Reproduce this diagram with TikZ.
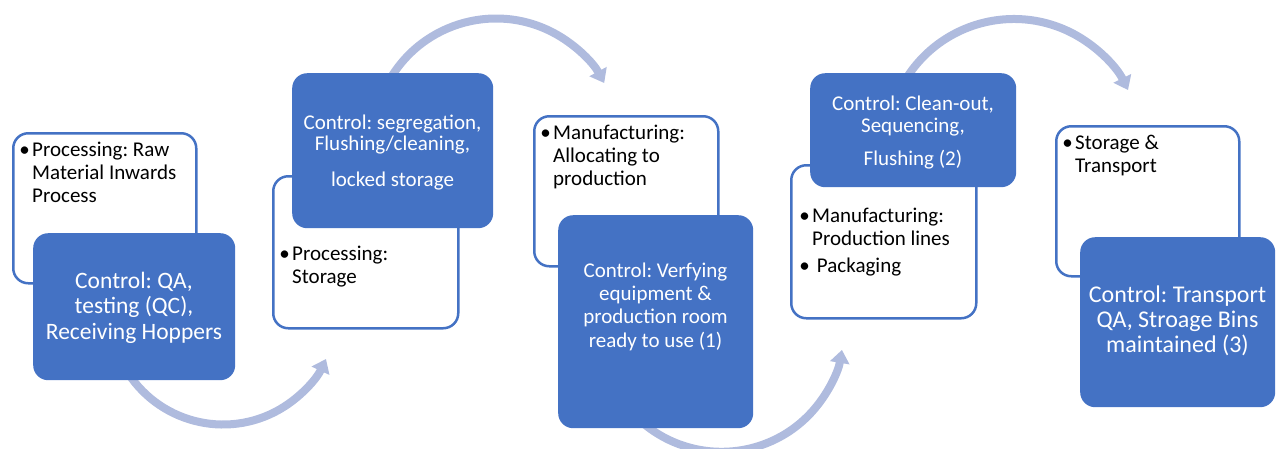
\documentclass[tikz,border=0pt]{standalone}
\usepackage{fontspec}
\setmainfont{Carlito}
\usetikzlibrary{arrows.meta,calc}

\definecolor{accent}{HTML}{4472C4}
\definecolor{flowarc}{RGB}{175,187,222}

% bullet and hanging indent for the stage lists
\newcommand\stagebul{\makebox[15pt][c]{•}}
\newcommand\stageind{\hspace*{15pt}}
\frenchspacing

\tikzset{
  ctrlbox/.style={rectangle, rounded corners=15pt, fill=accent, draw=none,
                  inner sep=0pt, anchor=north west},
  stagebox/.style={rectangle, rounded corners=15pt, fill=white, draw=accent,
                   line width=2.5pt, inner sep=0pt, anchor=north west},
  % text nodes are placed by the baseline of their last line
  stagetext/.style={anchor=base west, align=left, inner sep=0pt, text=black,
                    font=\fontsize{21}{23}\selectfont},
  ctrltext/.style={anchor=base, align=center, inner sep=0pt, text=white},
  flow/.style={draw=flowarc, line width=8pt, line cap=butt,
               -{Triangle[width=19pt,length=13pt]}}
}

\begin{document}
\begin{tikzpicture}[x=1pt,y=-1pt]
\useasboundingbox (0,0) rectangle (1280,448);

% ---- curved flow arrows (drawn first, the boxes cover their tails)
\coordinate (arcA) at (223.1,311.0);
\coordinate (arcB) at (496.0,141.5);
\coordinate (arcC) at (721.6,329.8);
\coordinate (arcD) at (1013.9,146.2);
\coordinate (fA) at ($(arcA)+(147:113.5)$);
\coordinate (fB) at ($(arcB)+(-150:123)$);
\coordinate (fC) at ($(arcC)+(130:122)$);
\coordinate (fD) at ($(arcD)+(-150:127.2)$);
\draw[flow] (fA) arc[start angle=147, end angle=25, radius=113.5];
\draw[flow] (fB) arc[start angle=-150, end angle=-28.4, radius=123];
\draw[flow] (fC) arc[start angle=130, end angle=9.5, radius=122];
\draw[flow] (fD) arc[start angle=-150, end angle=-26.2, radius=127.2];

% ---- stage 1
\node[stagebox, minimum width=183pt, minimum height=150pt] (s1) at (12,132) {};
\node[ctrlbox, minimum width=202pt, minimum height=147pt] (c1) at (33,233) {};
\node[stagetext] (s1t) at (17,202)
  {\stagebul Processing: Raw\\\stageind Material Inwards\\\stageind Process};
\node[ctrltext, font=\fontsize{23.5}{25.5}\selectfont] (c1t) at (134,339)
  {Control: QA,\\testing (QC),\\Receiving Hoppers};

% ---- stage 2
\node[stagebox, minimum width=185pt, minimum height=152pt] (s2) at (272,175) {};
\node[ctrlbox, minimum width=201pt, minimum height=155pt] (c2) at (292,73) {};
\node[stagetext] (s2t) at (277,283)
  {\stagebul Processing:\\\stageind Storage};
\node[ctrltext, font=\fontsize{21}{21.5}\selectfont] (c2t) at (392.5,186)
  {Control: segregation,\\Flushing/cleaning,\\[14pt]locked storage};

% ---- stage 3
\node[stagebox, minimum width=184pt, minimum height=150pt] (s3) at (533,115) {};
\node[ctrlbox, minimum width=195pt, minimum height=213pt] (c3) at (558,215) {};
\node[stagetext] (s3t) at (538,185)
  {\stagebul Manufacturing:\\\stageind Allocating to\\\stageind production};
\node[ctrltext, font=\fontsize{21}{23.3}\selectfont] (c3t) at (655.5,347)
  {Control: Verfying\\equipment \&\\production room\\ready to use (1)};

% ---- stage 4
\node[stagebox, minimum width=185pt, minimum height=153pt] (s4) at (790,164) {};
\node[ctrlbox, minimum width=206pt, minimum height=114pt] (c4) at (810,73) {};
\node[stagetext] (s4t) at (797,272)
  {\stagebul Manufacturing:\\\stageind Production lines\\[4pt]\stagebul\ Packaging};
\node[ctrltext, font=\fontsize{21}{22.5}\selectfont] (c4t) at (913,165)
  {Control: Clean-out,\\Sequencing,\\[10pt]Flushing (2)};

% ---- stage 5
\node[stagebox, minimum width=183pt, minimum height=150pt] (s5) at (1055,125) {};
\node[ctrlbox, minimum width=195pt, minimum height=170pt] (c5) at (1080,237) {};
\node[stagetext] (s5t) at (1060,172)
  {\stagebul Storage \&\\\stageind Transport};
\node[ctrltext, font=\fontsize{24}{25}\selectfont] (c5t) at (1177.5,352)
  {Control: Transport\\QA, Stroage Bins\\maintained (3)};
\end{tikzpicture}
\end{document}
